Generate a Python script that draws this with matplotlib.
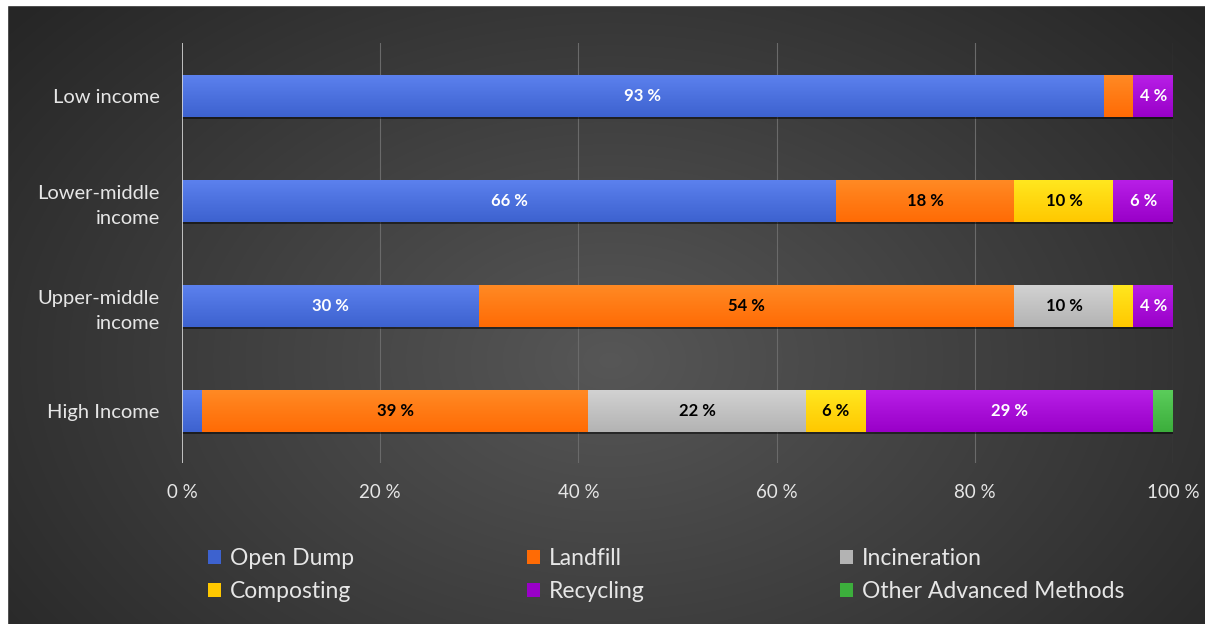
import numpy as np
import matplotlib.pyplot as plt
import matplotlib.patheffects as pe
from matplotlib.colors import to_rgb
from matplotlib.patches import Patch

plt.rcParams['font.family'] = ['Lato', 'DejaVu Sans']

# data
groups = ["Low income", "Lower-middle\nincome", "Upper-middle\nincome", "High Income"]
methods = ["Open Dump", "Landfill", "Incineration", "Composting", "Recycling",
           "Other Advanced Methods"]
open_dump = [93, 66, 30, 2]
landfill = [3, 18, 54, 39]
incineration = [0, 0, 10, 22]
composting = [0, 10, 2, 6]
recycling = [4, 6, 4, 29]
other = [0, 0, 0, 2]
x_ticks = [0, 20, 40, 60, 80, 100]

colors = ["#3d62cf", "#ff6b05", "#b3b3b3", "#ffc800", "#9900c8", "#3cae3c"]
label_colors = ["white", "black", "black", "black", "white", "white"]

fig = plt.figure(figsize=(12.05, 6.24), dpi=100, facecolor="#2b2b2b")

# dark radial background
bg = fig.add_axes([0, 0, 1, 1], zorder=-10)
yy, xx = np.mgrid[0:630, 0:1211]
r = np.sqrt(((xx - 613) / 820.0) ** 2 + ((yy - 363) / 560.0) ** 2)
shade = np.clip(0.34 - 0.20 * r, 0.15, 0.34)
bg.imshow(np.dstack([shade] * 3), aspect='auto', extent=[-3, 1208, 627, -3])
bg.axvspan(0, 7, color="white")
bg.axhspan(0, 5, color="white")
bg.set_xlim(0, 1205)
bg.set_ylim(624, 0)
bg.axis("off")

ax = fig.add_axes([0.151, 0.258, 0.8224, 0.673])
ax.set_facecolor("none")

series = [open_dump, landfill, incineration, composting, recycling, other]
y = np.arange(len(groups))
left = np.zeros(len(groups))
grad = np.linspace(0, 1, 64).reshape(-1, 1)
for vals, name, c, lc in zip(series, methods, colors, label_colors):
    vals = np.array(vals, dtype=float)
    bars = ax.barh(y, vals, left=left, height=0.4, color=c, zorder=3,
                   path_effects=[pe.SimplePatchShadow(offset=(0, -2), shadow_rgbFace="black",
                                                      alpha=0.5), pe.Normal()])
    base = np.array(to_rgb(c))
    light = np.clip(base + 0.12, 0, 1)
    cmap_img = light * (1 - grad[..., None]) + base * grad[..., None]
    for b, v in zip(bars, vals):
        if v <= 0:
            continue
        x0, y0 = b.get_x(), b.get_y()
        w, h = b.get_width(), b.get_height()
        im = ax.imshow(np.repeat(cmap_img, 2, axis=1), extent=[x0, x0 + w, y0 + h, y0],
                       aspect='auto', zorder=3.5, interpolation='bilinear')
        im.set_clip_path(b)
        if v >= 4:
            ax.text(x0 + w / 2, b.get_y() + h / 2, f"{v:.0f} %", ha="center", va="center",
                    color=lc, fontsize=12, fontweight="bold", zorder=5)
    left += vals

ax.set_xlim(0, 100)
ax.set_ylim(3.5, -0.5)
ax.set_yticks(y)
ax.set_yticklabels(groups, fontsize=14.5, color="#e6e6e6", linespacing=1.55)
ax.set_xticks(x_ticks)
ax.set_xticklabels([f"{t} %" for t in x_ticks], fontsize=13.5, color="#e6e6e6")
ax.tick_params(axis="both", length=0)
ax.tick_params(axis="y", pad=16)
ax.tick_params(axis="x", pad=15)
for t in x_ticks[1:]:
    ax.axvline(t, color="#6a6a6a", linewidth=0.8, zorder=1)
ax.axvline(0, color="#d9d9d9", linewidth=1.2, zorder=4)
for s in ax.spines.values():
    s.set_visible(False)

# legend: three columns, filled row-wise
handles = [Patch(facecolor=c, edgecolor="none", label=m) for m, c in zip(methods, colors)]
col_x = [208 / 1205, 527 / 1205, 840 / 1205]
for k, x in enumerate(col_x):
    leg = fig.legend(handles=[handles[k], handles[k + 3]], loc="center left",
                     bbox_to_anchor=(x, 1 - 575 / 624), frameon=False, fontsize=16.5,
                     handlelength=0.57, handleheight=0.57, handletextpad=0.4,
                     labelspacing=0.52, borderpad=0, borderaxespad=0)
    for txt in leg.get_texts():
        txt.set_color("#e6e6e6")

fig.savefig("out.png", dpi=100, facecolor=fig.get_facecolor())
